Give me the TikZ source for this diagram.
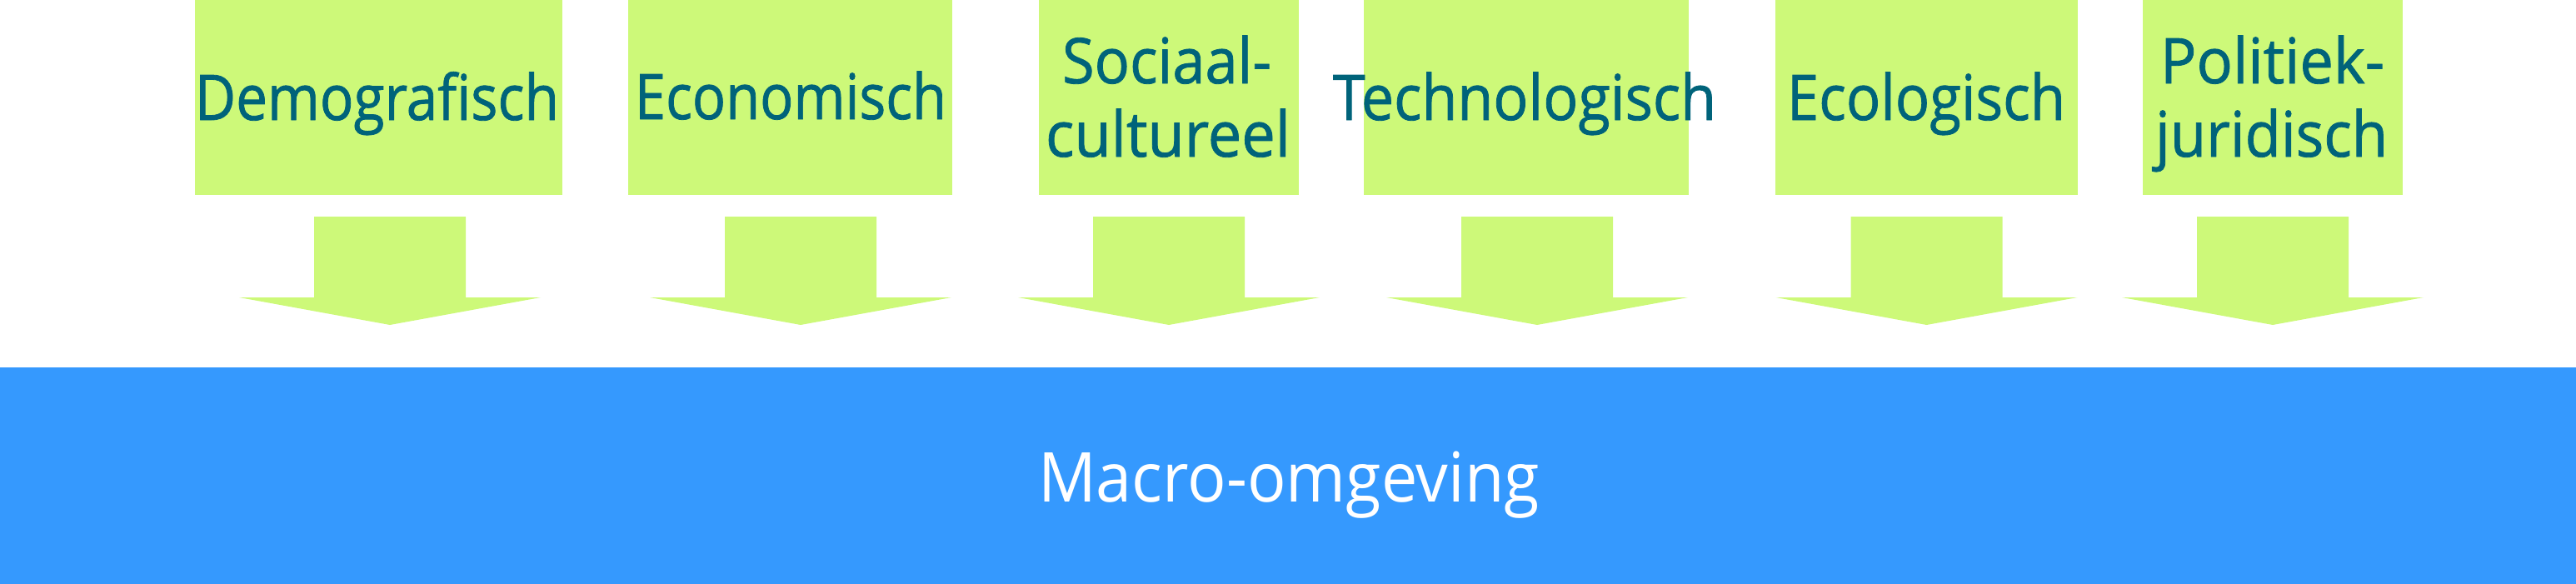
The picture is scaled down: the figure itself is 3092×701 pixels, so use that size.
\documentclass[tikz,border=0pt]{standalone}
\usepackage{fontspec}
\setmainfont{Open Sans}
\newfontfamily\heavyfont[FakeBold=1.1]{Open Sans}
\usepackage{graphicx}
\definecolor{boxgreen}{HTML}{CDF979}
\definecolor{txtteal}{HTML}{00637A}
\definecolor{barblue}{HTML}{3599FE}
\newcommand{\fitline}[2]{\resizebox{#1pt}{\height}{#2}}
\begin{document}
\begin{tikzpicture}[x=1pt,y=-1pt,
  gbox/.style={fill=boxgreen, draw=none, inner sep=0pt, minimum height=234pt},
  lbl/.style={anchor=base, inner sep=0pt, text=txtteal, font=\heavyfont\fontsize{75.6}{88}\selectfont},
  barlbl/.style={anchor=base, inner sep=0pt, text=white, font=\fontsize{82.6}{96}\selectfont},
  blockarrow/.style={fill=boxgreen, draw=none}]
\useasboundingbox (0,0) rectangle (3092,701);
% factor boxes
\node[gbox, minimum width=441pt] (b1) at (454.5,117) {};
\node[gbox, minimum width=389pt] (b2) at (948.5,117) {};
\node[gbox, minimum width=312pt] (b3) at (1403,117) {};
\node[gbox, minimum width=390pt] (b4) at (1832,117) {};
\node[gbox, minimum width=363pt] (b5) at (2312.5,117) {};
\node[gbox, minimum width=312pt] (b6) at (2728,117) {};
% labels
\node[lbl] (t1) at (452.5,144) {\fitline{437}{Demografisch}};
\node[lbl] (t2) at (949,143) {\fitline{374}{Economisch}};
\node[lbl] (t3a) at (1400.5,100) {\fitline{251}{Sociaal-}};
\node[lbl] (t3b) at (1402,188) {\fitline{294}{cultureel}};
\node[lbl] (t4) at (1830,144) {\fitline{460}{Technologisch}};
\node[lbl] (t5) at (2312,144) {\fitline{334}{Ecologisch}};
\node[lbl] (t6a) at (2727.5,100) {\fitline{269}{Politiek-}};
\node[lbl] (t6b) at (2726.5,188) {\fitline{279}{juridisch}};
% block arrows
\foreach \cx [count=\i] in {468,961,1403,1845,2312.5,2728}{
  \coordinate (a\i) at (\cx,390);
  \fill[blockarrow] (\cx-91,260) -- (\cx+91,260) -- (\cx+91,357) -- (\cx+181,357)
    -- (a\i) -- (\cx-181,357) -- (\cx-91,357) -- cycle;
}
% bottom bar
\node[fill=barblue, draw=none, inner sep=0pt, minimum width=3092pt, minimum height=260pt] (bar) at (1546,571) {};
\node[barlbl] (tbar) at (1547,602) {\fitline{602}{Macro-omgeving}};
\end{tikzpicture}
\end{document}
